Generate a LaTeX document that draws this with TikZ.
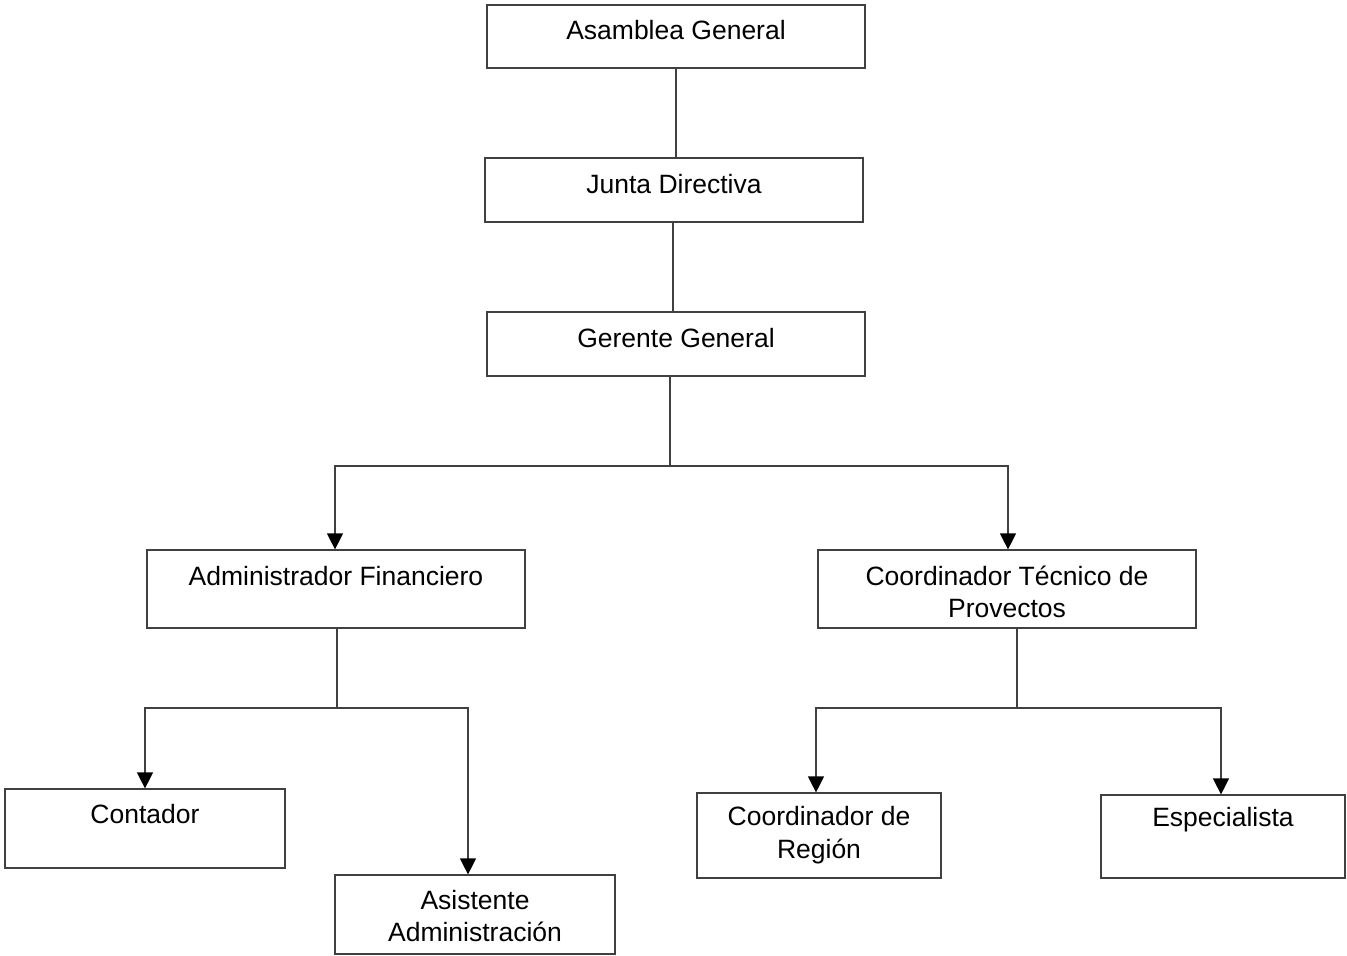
\documentclass[tikz,border=0pt]{standalone}
\usepackage{fontspec}
\setmainfont{Liberation Sans}
\usetikzlibrary{arrows.meta}
\definecolor{linecol}{HTML}{404040}
\begin{document}
\begin{tikzpicture}[x=1pt,y=-1pt,
  box/.style={draw=linecol, line width=1.2pt, inner sep=0pt},
  lbl/.style={font=\fontsize{26.5}{32.5}\selectfont, align=center, inner sep=0pt},
  conn/.style={draw=linecol, line width=1.2pt},
  arr/.style={conn, -{Triangle[width=16pt,length=16pt,color=black]}}]
\useasboundingbox (0,0) rectangle (1347,956);
% boxes
\node[box, minimum width=378pt, minimum height=63pt] (ag) at (676,36.5) {};
\node[box, minimum width=378pt, minimum height=64pt] (jd) at (674,190) {};
\node[box, minimum width=378pt, minimum height=64pt] (gg) at (676,344) {};
\node[box, minimum width=378pt, minimum height=78pt] (af) at (336,589) {};
\node[box, minimum width=378pt, minimum height=78pt] (ct) at (1007,589) {};
\node[box, minimum width=280pt, minimum height=79pt] (co) at (145,828.5) {};
\node[box, minimum width=280pt, minimum height=79pt] (as) at (475,914.5) {};
\node[box, minimum width=244pt, minimum height=85pt] (cr) at (819,835.5) {};
\node[box, minimum width=244pt, minimum height=83pt] (es) at (1223,836.5) {};
% labels
\node[lbl] (tag) at (676,30) {Asamblea General};
\node[lbl] (tjd) at (674,184) {Junta Directiva};
\node[lbl] (tgg) at (676,338) {Gerente General};
\node[lbl] (taf) at (336,576) {Administrador Financiero};
\node[lbl] (tct) at (1007,592) {Coordinador Técnico de\\Provectos};
\node[lbl] (tco) at (145,814) {Contador};
\node[lbl] (tas) at (475,916) {Asistente\\Administración};
\node[lbl] (tcr) at (819,835) {Coordinador de\\Región};
\node[lbl] (tes) at (1223,820) {Especialista};
% connectors
\draw[conn] (ag.south) -- (ag.south |- jd.north);
\draw[conn] ([xshift=-1pt]jd.south) -- ([xshift=-1pt]jd.south |- gg.north);
\coordinate (g1) at (670,466);
\draw[conn] (gg.south -| g1) -- (g1);
\draw[arr] (g1) -| ([xshift=-1pt]af.north);
\draw[arr] (g1) -| ([xshift=1pt]ct.north);
\coordinate (a1) at (337,708);
\draw[conn] (af.south -| a1) -- (a1);
\draw[arr] (a1) -| (co.north);
\draw[arr] (a1) -| ([xshift=-7pt]as.north);
\coordinate (c1) at (1017,708);
\draw[conn] (ct.south -| c1) -- (c1);
\draw[arr] (c1) -| ([xshift=-3pt]cr.north);
\draw[arr] (c1) -| ([xshift=-2pt]es.north);
\end{tikzpicture}
\end{document}
